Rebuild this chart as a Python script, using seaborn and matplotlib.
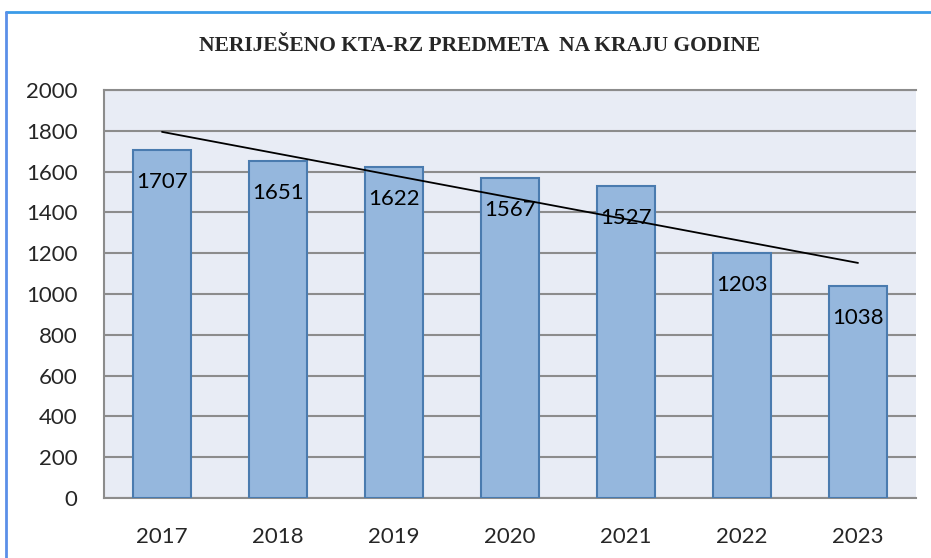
import numpy as np
import pandas as pd
import matplotlib.pyplot as plt
import seaborn as sb
from matplotlib.lines import Line2D

years = ['2017', '2018', '2019', '2020', '2021', '2022', '2023']
values = [1707, 1651, 1622, 1567, 1527, 1203, 1038]
title = 'NERIJEŠENO KTA-RZ PREDMETA  NA KRAJU GODINE'

df = pd.DataFrame({'year': years, 'value': values})

sb.set_style('white')
plt.rcParams['font.family'] = ['Lato', 'DejaVu Sans']

fig = plt.figure(figsize=(9.31, 5.58), dpi=100)
ax = fig.add_axes([104 / 931, 1 - 498 / 558, (916 - 104) / 931, (498 - 90) / 558])
ax.set_facecolor('#E8ECF5')

sb.barplot(data=df, x='year', y='value', color='#95B7DD', saturation=1,
           width=0.5, edgecolor='#4A7BAF', linewidth=1.5, ax=ax, zorder=3)

# linear trend
pos = np.arange(len(values))
k, b = np.polyfit(pos, values, 1)
ax.plot(pos, k * pos + b, color='black', lw=1.3, zorder=4)

for i, v in enumerate(values):
    ax.annotate(str(v), (i, v), xytext=(0, -23), textcoords='offset points',
                ha='center', va='center', fontsize=16, color='black', zorder=5)

ax.set_ylim(0, 2000)
ax.set_xlim(-0.5, len(years) - 0.5)
ax.set_yticks(range(0, 2001, 200))
ax.yaxis.grid(True, color='#8C8C8C', lw=1.5, zorder=1)
ax.set_axisbelow(True)
ax.tick_params(axis='y', length=0, pad=19, labelsize=16)
ax.tick_params(axis='x', length=0, pad=21, labelsize=16)
ax.set_xlabel('')
ax.set_ylabel('')
for s in ['top', 'left', 'bottom']:
    ax.spines[s].set_color('#8C8C8C')
    ax.spines[s].set_linewidth(1.5)
ax.spines['right'].set_visible(False)

fig.text(480 / 931, 1 - 46 / 558, title, ha='center', va='center',
         fontsize=15.5, fontweight='bold', family='Liberation Serif')

# outer frame
fig.add_artist(Line2D([6 / 931, 1], [1 - 12 / 558, 1 - 12 / 558], color='#3A9BE8', lw=2))
fig.add_artist(Line2D([6 / 931, 6 / 931], [0, 1 - 12 / 558], color='#5B8FE8', lw=2))

fig.savefig('out.png', dpi=100)
